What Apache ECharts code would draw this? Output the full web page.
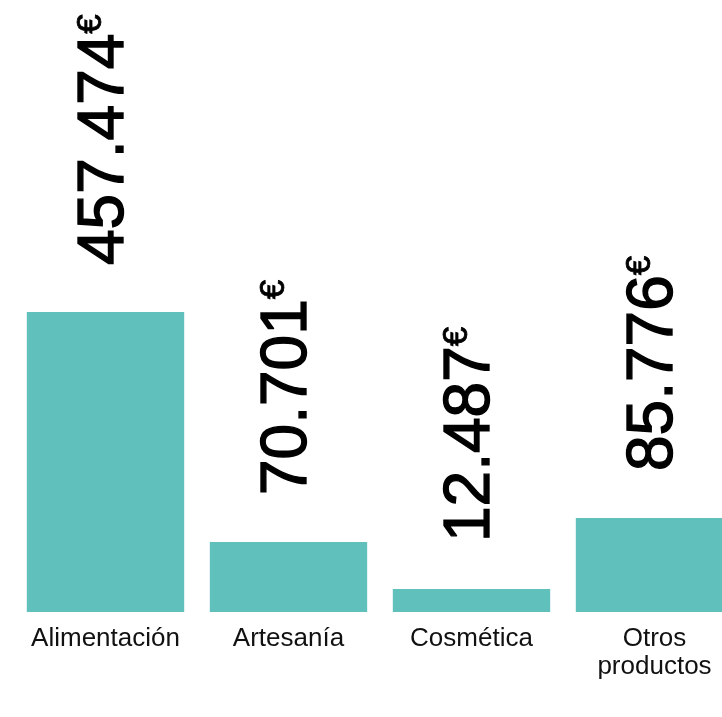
<!DOCTYPE html>
<html>
<head>
<meta charset="utf-8">
<script src="https://cdn.jsdelivr.net/npm/echarts@6/dist/echarts.min.js"></script>
<style>
html,body{margin:0;padding:0;background:#fff;}
#chart{width:722px;height:717px;}
</style>
</head>
<body>
<div id="chart"></div>
<script>
// Categorías
const categories = ['Alimentación', 'Artesanía', 'Cosmética', 'Otros\nproductos'];
// Importes mostrados en las etiquetas (€)
const amounts = [457474, 70701, 12487, 85776];
// Longitud de cada barra tal como aparece en el gráfico (escala visual, no proporcional)
const barLengths = [300, 70, 23, 94];

const FONT = 'Liberation Sans, Arial, Helvetica, sans-serif';

function fmt(v) {
  return String(v).replace(/\B(?=(\d{3})+(?!\d))/g, '.');
}

const chart = echarts.init(document.getElementById('chart'), null, {renderer: 'canvas'});
chart.setOption({
  backgroundColor: '#ffffff',
  animation: false,
  grid: {left: 14, right: -24, top: 12, bottom: 105, outerBoundsMode: 'none', containLabel: false},
  xAxis: {
    type: 'category',
    data: categories,
    axisLine: {show: false},
    axisTick: {show: false},
    axisLabel: {
      interval: 0,
      margin: 13,
      fontFamily: FONT,
      fontSize: 26,
      lineHeight: 28,
      color: '#111111'
    }
  },
  yAxis: {
    type: 'value',
    min: 0,
    max: 600,
    show: false,
    splitLine: {show: false}
  },
  series: [{
    type: 'bar',
    data: barLengths,
    barCategoryGap: '14%',
    itemStyle: {color: '#60c0bc'},
    label: {
      show: true,
      position: 'top',
      rotate: 90,
      align: 'left',
      verticalAlign: 'middle',
      distance: 44,
      offset: [3, 0],
      formatter: function (p) {
        return '{n|' + fmt(amounts[p.dataIndex]) + '}{e|€}';
      },
      rich: {
        n: {fontFamily: FONT, fontSize: 64, lineHeight: 64, color: '#000000',
            textBorderColor: '#000000', textBorderWidth: 1.4},
        e: {fontFamily: FONT, fontSize: 35, lineHeight: 38, verticalAlign: 'top', color: '#000000',
            textBorderColor: '#000000', textBorderWidth: 0.8}
      }
    }
  }]
});
</script>
</body>
</html>
